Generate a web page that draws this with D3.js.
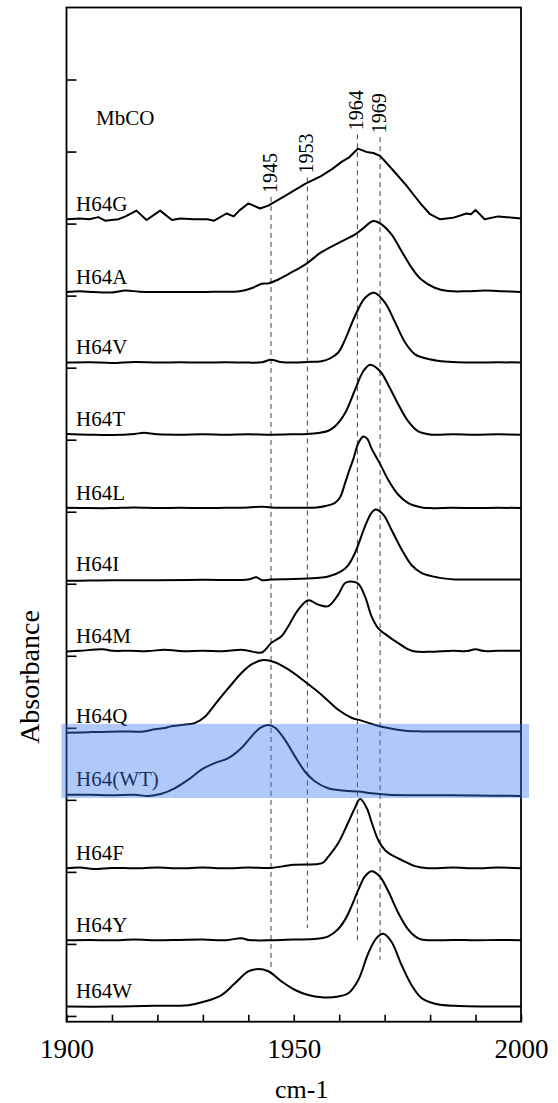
<!DOCTYPE html>
<html><head><meta charset="utf-8">
<script src="https://cdn.jsdelivr.net/npm/d3@7"></script>
<style>body{margin:0;background:#fff}svg{display:block}</style>
</head><body><svg id="c" width="558" height="1103"></svg>
<script>
// ---- data (wavenumber cm-1, absorbance in offset units) ----
const names = ["H64G","H64A","H64V","H64T","H64L","H64I","H64M","H64Q","H64(WT)","H64F","H64Y","H64W"];
const baselines = [11.06,10.05,9.07,8.07,7.05,6.06,5.06,3.95,3.07,2.05,1.05,0.13];
const H64G = [[1900,0],[1903,0.01],[1905,0],[1907,0.03],[1908.5,-0.02],[1911.4,0],[1913,0.04],[1915.4,0.12],[1917.6,-0.01],[1920.6,0.12],[1923.2,-0.01],[1925,0.01],[1928,0],[1931,0],[1932.5,-0.02],[1935.2,0.08],[1936.8,0.04],[1938,0.12],[1940,0.22],[1942.6,0.15],[1944.4,0.19],[1948,0.32],[1952.5,0.49],[1956,0.6],[1958.5,0.7],[1960.6,0.8],[1962.2,0.86],[1964.1,0.98],[1966,0.935],[1967.5,0.92],[1969,0.88],[1972,0.67],[1974.5,0.49],[1976.5,0.33],[1978,0.21],[1980,0.07],[1982.2,0],[1985,0.02],[1988,0.08],[1989,0.07],[1990,0.13],[1992,0],[1995,0.04],[2000,0.01]];
const H64A = [[1900,0],[1903,0.01],[1906,0],[1910,-0.005],[1913,0.02],[1916,0.005],[1920,0],[1925,0],[1930,0],[1934,0.005],[1937,0.005],[1939,0.02],[1941,0.06],[1943,0.115],[1944.4,0.12],[1946.5,0.17],[1948.8,0.25],[1952.5,0.38],[1956,0.55],[1959.8,0.68],[1963.5,0.8],[1965,0.87],[1967.5,0.985],[1969.3,0.94],[1971.5,0.8],[1973.7,0.57],[1975.9,0.34],[1978,0.176],[1981,0.06],[1984,0.014],[1988,0.01],[1992,0.02],[1996,0.01],[2000,0]];
const H64V = [[1900,0],[1905,0.005],[1910,-0.005],[1915,0.01],[1920,0],[1925,0.005],[1930,0],[1935,0.005],[1940,0],[1943,0.005],[1945,0.04],[1947,0.01],[1950,0],[1953,0.01],[1956.1,0.02],[1958,0.06],[1959.8,0.14],[1961.3,0.32],[1963.5,0.65],[1965.7,0.9],[1967.7,0.97],[1970.1,0.83],[1972.3,0.56],[1974.5,0.28],[1976.7,0.115],[1979.6,0.05],[1982.5,0.02],[1986,0.005],[1990,0],[1995,0.005],[2000,0]];
const H64T = [[1900,0.01],[1905,0],[1910,-0.005],[1915,0.01],[1917,0.025],[1920,0.005],[1925,0],[1930,0.005],[1935,0],[1940,0.005],[1945,0],[1950,0.005],[1953,0.01],[1955.4,0.023],[1957.5,0.05],[1959.1,0.116],[1961.3,0.3],[1963.5,0.625],[1965.3,0.88],[1966.8,0.97],[1969,0.88],[1970.8,0.69],[1973,0.42],[1975.2,0.185],[1977.4,0.046],[1980.3,0],[1985,0.005],[1990,0],[1995,0.005],[2000,0]];
const H64L = [[1900,0.005],[1905,0],[1910,0],[1915,0.01],[1920,0],[1925,0.005],[1930,0],[1935,0.005],[1940,0.01],[1943,0.02],[1945,0.01],[1950,0.005],[1955,0.01],[1957,0.03],[1959,0.07],[1960.2,0.15],[1961.3,0.35],[1962.2,0.52],[1963.1,0.68],[1964.2,0.9],[1965.3,0.995],[1966.2,0.96],[1967.1,0.83],[1968.9,0.625],[1970.8,0.39],[1973,0.185],[1975.2,0.07],[1978.2,0.01],[1980,0],[1985,0.005],[1990,0],[1995,0.005],[2000,0]];
const H64I = [[1900,-0.02],[1905,-0.015],[1910,-0.01],[1920,-0.01],[1930,-0.005],[1940,0],[1941.8,0.03],[1943,-0.01],[1945,0],[1950,0.005],[1955,0.02],[1957.6,0.04],[1960.5,0.115],[1962,0.2],[1963.5,0.37],[1965.7,0.74],[1967.1,0.925],[1968,0.97],[1969.7,0.9],[1971.5,0.69],[1973.7,0.42],[1975.9,0.2],[1978.1,0.09],[1981.8,0.025],[1985.5,0],[1990,0],[2000,0]];
const H64M = [[1900,0],[1903,0.01],[1908,0.03],[1910,0.01],[1914,0.01],[1918,0.005],[1921.6,0.025],[1925,0.005],[1930,0.01],[1935,0.005],[1938.4,0.025],[1940,0.01],[1942.9,-0.015],[1945.1,0.12],[1947.3,0.21],[1948.8,0.35],[1951,0.58],[1953.2,0.71],[1955.4,0.65],[1957.6,0.63],[1959.8,0.79],[1961.3,0.95],[1962.7,0.97],[1964.2,0.94],[1965.7,0.76],[1967.1,0.49],[1968.6,0.32],[1970.8,0.21],[1973,0.115],[1975.2,0.03],[1976.7,0],[1980,-0.005],[1985,0.01],[1988,0.005],[1990,0.03],[1992,0.005],[1995,0.01],[2000,0.01]];
const H64Q = [[1900,-0.02],[1905,-0.01],[1912,0],[1917,0],[1919.4,0.03],[1921.6,0.047],[1923,0.07],[1926.8,0.1],[1928.2,0.115],[1930.4,0.2],[1932.6,0.37],[1935.6,0.6],[1938.5,0.81],[1940.7,0.93],[1943.3,0.99],[1945.8,0.96],[1948.8,0.86],[1952.5,0.69],[1956.1,0.51],[1959.8,0.3],[1962.7,0.19],[1964.9,0.15],[1967.9,0.09],[1970.8,0.047],[1974.5,0.01],[1978,0],[1990,0],[2000,0]];
const H64WT = [[1900,0],[1905,0],[1910,-0.005],[1915,0],[1918,-0.015],[1920.9,0.015],[1923.8,0.09],[1926.8,0.21],[1929.7,0.35],[1932.6,0.44],[1935.6,0.51],[1938.5,0.65],[1940.7,0.81],[1942.6,0.93],[1944.4,0.97],[1945.9,0.93],[1948.1,0.76],[1950.3,0.53],[1952.5,0.32],[1954.7,0.185],[1957.6,0.09],[1961.3,0.055],[1964.2,0.046],[1967.1,0.023],[1970.8,0],[1978.1,-0.005],[1990,-0.01],[2000,-0.015]];
const H64F = [[1900,0],[1903,0.01],[1906,-0.01],[1910,0.005],[1915,0],[1920,0.01],[1925,0],[1930,0.01],[1935,0],[1940,0.01],[1945,0.005],[1948,0.03],[1950,0.05],[1955.4,0.06],[1956.5,0.08],[1957.6,0.16],[1959.8,0.35],[1961.9,0.625],[1963.4,0.83],[1964.6,0.96],[1966.1,0.83],[1967.2,0.625],[1968.6,0.39],[1970.1,0.25],[1971.5,0.185],[1973.7,0.115],[1976.7,0.03],[1979.6,0],[1985,0.01],[1990,0],[1995,0.01],[2000,0]];
const H64Y = [[1900,0],[1905,0.005],[1910,0],[1915,0.01],[1920,0],[1925,0.005],[1930,0.01],[1935,0],[1938.5,0.03],[1940,0.005],[1945,0],[1950,0.01],[1955,0.02],[1957.6,0.055],[1959.8,0.157],[1961.3,0.287],[1962.7,0.47],[1964.2,0.7],[1965.7,0.89],[1967.1,0.96],[1968.9,0.89],[1970.8,0.68],[1973,0.38],[1975.2,0.148],[1976.7,0.055],[1978.1,0.01],[1981,0],[1985,0.005],[1990,0],[1995,0.005],[2000,0]];
const H64W = [[1900,0],[1910,0],[1919.4,0.01],[1926.8,0.02],[1930.4,0.07],[1934.1,0.16],[1937,0.32],[1940,0.49],[1942.2,0.52],[1944.4,0.49],[1947.3,0.35],[1950.3,0.23],[1953.2,0.16],[1956.1,0.13],[1959.8,0.14],[1962,0.185],[1964.2,0.37],[1966.4,0.74],[1968.2,0.95],[1969.7,1.01],[1971.5,0.9],[1973.7,0.58],[1975.9,0.3],[1978.1,0.12],[1981.1,0.04],[1985.5,0.01],[2000,0]];
const spectra = [H64G,H64A,H64V,H64T,H64L,H64I,H64M,H64Q,H64WT,H64F,H64Y,H64W];
const peakLines = [1945,1953,1964,1969];
const peakLineTop = [11.37,11.64,12.24,12.2];
const peakLineBottom = [0.67,1.22,1.01,0.78];
const xTickValues = d3.range(1900,2001,10);
const xTickLabels = [1900,1950,2000];
const yTickValues = d3.range(0,14);
const highlighted = "H64(WT)";
const topLabel = "MbCO";

// ---- drawing ----
const FONT = "'Liberation Serif','Times New Roman',serif";
const svg = d3.select("#c");
svg.append("rect").attr("width",558).attr("height",1103).attr("fill","#fff");
const x = d3.scaleLinear().domain([1900,2000]).range([66.5,521]);
const y = d3.scaleLinear().domain([-0.08,14]).range([1021.7,7.5]);

// dashed reference lines
const pl = svg.append("g");
peakLines.forEach((w,i)=>{
  pl.append("line").attr("x1",x(w)).attr("x2",x(w))
    .attr("y1",y(peakLineTop[i])).attr("y2",y(peakLineBottom[i]))
    .attr("stroke","#444").attr("stroke-width",1).attr("stroke-dasharray","5,4");
  pl.append("text").attr("transform",`translate(${x(w)+5.5},${y(peakLineTop[i])-4}) rotate(-90)`)
    .attr("font-family",FONT).attr("font-size",20).attr("fill","#000").text(w);
});

// spectra
const sg = svg.append("g");
spectra.forEach((s,i)=>{
  const line = d3.line().x(d=>x(d[0])).y(d=>y(baselines[i]+d[1]))
    .curve(i===0 ? d3.curveLinear : d3.curveCatmullRom.alpha(0.5));
  sg.append("path").attr("d",line(s)).attr("fill","none").attr("stroke","#000")
    .attr("stroke-width",2).attr("stroke-linejoin","round");
  sg.append("text").attr("x",76).attr("y",y(baselines[i])-8.5)
    .attr("font-family",FONT).attr("font-size",21).attr("fill","#000").text(names[i]);
});
svg.append("text").attr("x",96).attr("y",125).attr("font-family",FONT).attr("font-size",21).text(topLabel);

// axes
const xAxis = d3.axisBottom(x).tickValues(xTickValues).tickSizeInner(-7).tickSizeOuter(0)
  .tickFormat(d=>xTickLabels.includes(d)?d:"");
const gx = svg.append("g").attr("transform",`translate(0,${y.range()[0]})`).call(xAxis);
gx.selectAll("line").attr("stroke","#000").attr("stroke-width",1.6);
gx.select(".domain").remove();
gx.selectAll("text").attr("font-family",FONT).attr("font-size",27).attr("fill","#000").attr("dy",0).attr("y",36);

const yAxis = d3.axisLeft(y).tickValues(yTickValues).tickSizeInner(-10).tickSizeOuter(0).tickFormat("");
const gy = svg.append("g").attr("transform",`translate(${x.range()[0]},0)`).call(yAxis);
gy.selectAll("line").attr("stroke","#000").attr("stroke-width",1.6);
gy.select(".domain").remove();

// frame
svg.append("rect").attr("x",x.range()[0]).attr("y",y.range()[1])
  .attr("width",x.range()[1]-x.range()[0]).attr("height",y.range()[0]-y.range()[1])
  .attr("fill","none").attr("stroke","#000").attr("stroke-width",1.8);

// axis titles
svg.append("text").attr("x",x(1950)+8).attr("y",1098).attr("text-anchor","middle")
  .attr("font-family",FONT).attr("font-size",26).text("cm-1");
svg.append("text").attr("transform",`translate(39,677) rotate(-90)`).attr("text-anchor","middle")
  .attr("font-family",FONT).attr("font-size",28).text("Absorbance");

// highlight band
const hi = names.indexOf(highlighted);
svg.append("rect").attr("x",x.range()[0]-5).attr("width",x.range()[1]-x.range()[0]+13)
  .attr("y",y(baselines[hi]+0.985)).attr("height",y(baselines[hi]-0.045)-y(baselines[hi]+0.985))
  .attr("fill","#3c78f0").attr("fill-opacity",0.4);
</script></body></html>
